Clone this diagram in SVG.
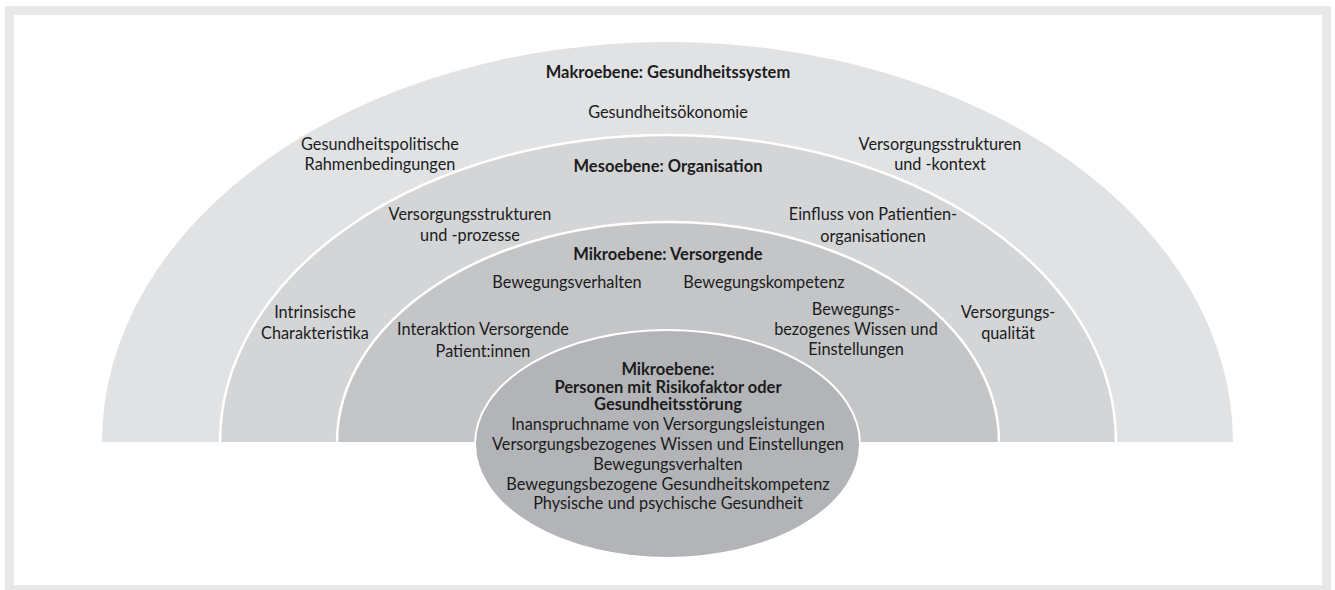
<svg xmlns="http://www.w3.org/2000/svg" width="1335" height="590" viewBox="0 0 1335 590">
<style>
text{font-family:Lato,"Liberation Sans",sans-serif;font-size:16.3px;fill:#1c1c1c;text-anchor:middle}
.b{font-weight:bold;font-size:16.5px}
.sep{fill:none;stroke:#ffffff;stroke-width:2.5}
</style>
<rect x="0" y="0" width="1335" height="590" fill="#ffffff"/>
<rect x="9.5" y="10.5" width="1317" height="579" fill="none" stroke="#e8e8e8" stroke-width="9"/>
<g id="makro">
<path d="M102,442 A565.5,400 0 0 1 1233,442 Z" fill="#e1e2e4"/>
<text class="b" x="668" y="78">Makroebene: Gesundheitssystem</text>
<text x="668" y="118">Gesundheitsökonomie</text>
<text x="380" y="150">Gesundheitspolitische</text>
<text x="380" y="170">Rahmenbedingungen</text>
<text x="940" y="150">Versorgungsstrukturen</text>
<text x="940" y="170">und -kontext</text>
</g>
<g id="meso">
<path d="M220,442 A448,307 0 0 1 1116,442 Z" fill="#d4d5d7"/>
<path class="sep" d="M220,442 A448,307 0 0 1 1116,442"/>
<text class="b" x="668" y="172">Mesoebene: Organisation</text>
<text x="470" y="220">Versorgungsstrukturen</text>
<text x="470" y="241">und -prozesse</text>
<text x="873" y="220">Einfluss von Patientien-</text>
<text x="873" y="242">organisationen</text>
<text x="315" y="318">Intrinsische</text>
<text x="315" y="339">Charakteristika</text>
<text x="1008" y="318">Versorgungs-</text>
<text x="1008" y="339">qualität</text>
</g>
<g id="mikro-versorgende">
<path d="M337,442 A331,220 0 0 1 999,442 Z" fill="#c4c5c7"/>
<path class="sep" d="M337,442 A331,220 0 0 1 999,442"/>
<text class="b" x="668" y="260">Mikroebene: Versorgende</text>
<text x="567" y="288">Bewegungsverhalten</text>
<text x="764" y="288">Bewegungskompetenz</text>
<text x="483" y="335">Interaktion Versorgende</text>
<text x="483" y="357">Patient:innen</text>
<text x="856" y="315">Bewegungs-</text>
<text x="856" y="335">bezogenes Wissen und</text>
<text x="856" y="355">Einstellungen</text>
</g>
<g id="mikro-personen">
<ellipse cx="667.5" cy="444" rx="192.5" ry="114" fill="#b3b4b7" stroke="#ffffff" stroke-width="2"/>
<text class="b" x="668" y="375">Mikroebene:</text>
<text class="b" x="668" y="392.5">Personen mit Risikofaktor oder</text>
<text class="b" x="668" y="410">Gesundheitsstörung</text>
<text x="668" y="430">Inanspruchname von Versorgungsleistungen</text>
<text x="668" y="450">Versorgungsbezogenes Wissen und Einstellungen</text>
<text x="668" y="470">Bewegungsverhalten</text>
<text x="668" y="490">Bewegungsbezogene Gesundheitskompetenz</text>
<text x="668" y="509">Physische und psychische Gesundheit</text>
</g>
<g id="connectors"></g>
</svg>
